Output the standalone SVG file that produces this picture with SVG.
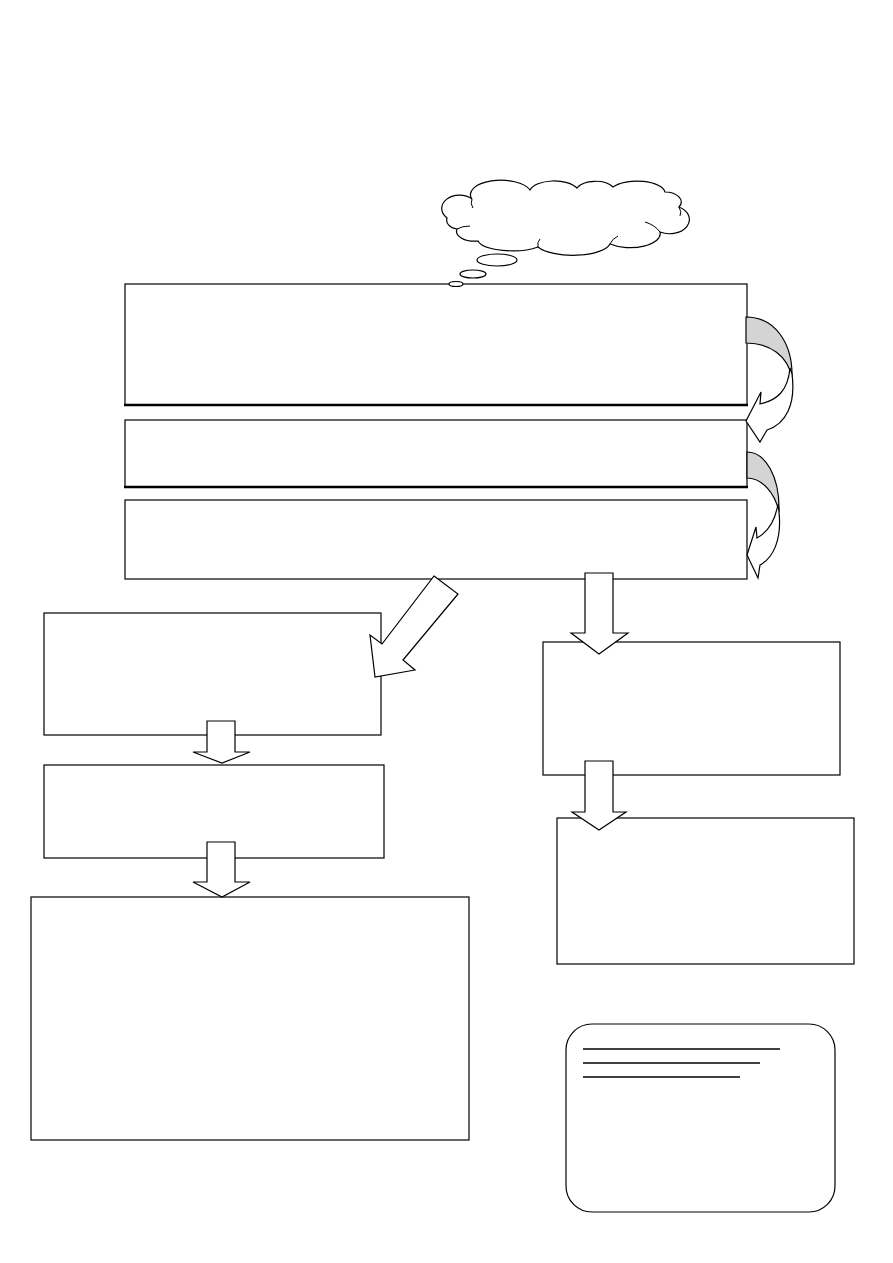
<svg xmlns="http://www.w3.org/2000/svg" width="893" height="1263" viewBox="0 0 893 1263">
<style>
.box{fill:#fff;stroke:#000;stroke-width:1.2}
.thick{stroke:#000;stroke-width:2.4}
.arr{fill:#fff;stroke:#000;stroke-width:1.2;stroke-linejoin:miter}
.band{fill:#d4d4d4;stroke:#000;stroke-width:1.2}
.ln{stroke:#000;stroke-width:1.6}
</style>
<rect width="893" height="1263" fill="#fff"/>
<g id="box-top">
<rect class="box" x="125" y="284" width="622" height="121"/>
<line class="thick" x1="124" y1="405" x2="748" y2="405"/>
</g>
<g id="thought-cloud">
<path class="box" d="M447,218 A16,12 0 0 1 472,199 A30,14 0 0 1 530,190 A25,12 0 0 1 577,188 A20,11 0 0 1 613,187 A28,12 0 0 1 665,192 A16,10 0 0 1 679,207 A14,10 0 0 1 660,232 A30,14 0 0 1 610,244 A38,14 0 0 1 538,247 A35,12 0 0 1 478,241 A18,10 0 0 1 457,229 A12,9 0 0 1 447,218 Z"/>
<path fill="none" stroke="#000" stroke-width="1" d="M472,199 Q470,204 473,208 M457,229 Q462,226 470,226 M538,247 Q537,242 540,239 M610,244 Q612,239 618,236 M660,232 Q655,225 645,222 M679,207 Q682,212 680,216"/>
<ellipse class="box" cx="497" cy="260" rx="20" ry="6"/>
<ellipse class="box" cx="473" cy="274" rx="13" ry="4"/>
<ellipse class="box" cx="456" cy="284" rx="7" ry="2.5"/>
</g>
<g id="box-second">
<rect class="box" x="125" y="420" width="622" height="67"/>
<line class="thick" x1="124" y1="487" x2="748" y2="487"/>
</g>
<g id="box-third">
<rect class="box" x="125" y="500" width="622" height="79"/>
</g>
<g id="box-left-1"><rect class="box" x="44" y="613" width="337" height="122"/></g>
<g id="box-left-2"><rect class="box" x="44" y="765" width="340" height="93"/></g>
<g id="box-left-3"><rect class="box" x="31" y="897" width="438" height="243"/></g>
<g id="box-right-1"><rect class="box" x="543" y="642" width="297" height="133"/></g>
<g id="box-right-2"><rect class="box" x="557" y="818" width="297" height="146"/></g>
<g id="note-box">
<rect class="box" x="566" y="1024" width="269" height="188" rx="26" ry="26"/>
<line class="ln" x1="583" y1="1049" x2="780" y2="1049"/>
<line class="ln" x1="583" y1="1063" x2="760" y2="1063"/>
<line class="ln" x1="583" y1="1077" x2="740" y2="1077"/>
</g>
<g id="connectors">
<path class="band" d="M746,317 C774,317 793,342 792,378 C788,356 770,343 746,343 Z"/>
<path class="arr" d="M790,368 C788,390 778,400 760,404 L761,392 L746,421 L760,442 L767,430 C786,424 796,404 792,374 Z"/>
<path class="band" d="M747,452 C765,452 780,476 779,512 C775,493 762,478 747,478 Z"/>
<path class="arr" d="M778,504 C775,522 768,532 757,538 L756,527 L747,555 L758,578 L760,565 C773,558 782,540 779,512 Z"/>
<polygon class="arr" points="434,576 458,594 403,660 415,670 375,677 370,635 382,644"/>
<polygon class="arr" points="585,573 613,573 613,633 628,633 599,654 571,633 585,633"/>
<polygon class="arr" points="585,761 613,761 613,812 626,812 599,830 572,812 585,812"/>
<polygon class="arr" points="207,721 235,721 235,752 250,752 222,763 193,752 207,752"/>
<polygon class="arr" points="207,842 235,842 235,882 250,882 222,897 193,882 207,882"/>
</g>
</svg>
